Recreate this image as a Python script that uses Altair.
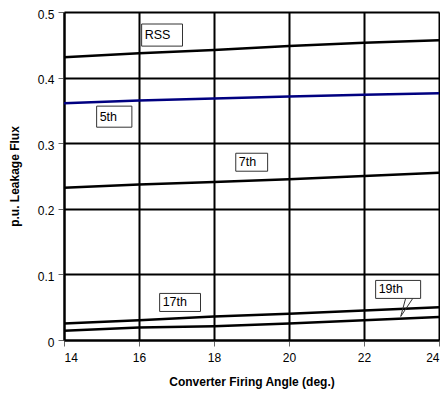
import altair as alt
import pandas as pd

angles = [14, 16, 18, 20, 22, 24]
rss = [0.431, 0.437, 0.442, 0.448, 0.453, 0.457]
h5 = [0.361, 0.365, 0.368, 0.371, 0.374, 0.376]
h7 = [0.232, 0.237, 0.241, 0.245, 0.250, 0.255]
h17 = [0.025, 0.030, 0.036, 0.040, 0.045, 0.050]
h19 = [0.014, 0.019, 0.021, 0.025, 0.030, 0.035]

series_names = ["RSS", "5th", "7th", "17th", "19th"]
series_vals = [rss, h5, h7, h17, h19]
series_colors = ["#000000", "#000080", "#000000", "#000000", "#000000"]

# label boxes: name, x0, x1, y0, y1
lab_names = ["RSS", "5th", "7th", "17th", "19th"]
lab_x0 = [16.07, 14.87, 18.58, 16.55, 22.31]
lab_x1 = [17.16, 15.81, 19.43, 17.64, 23.51]
lab_y0 = [0.448, 0.3244, 0.2573, 0.0435, 0.0634]
lab_y1 = [0.4817, 0.3565, 0.2847, 0.071, 0.0908]

# 19th callout pointer
ptr_x = [23.11, 22.98, 23.30]
ptr_y = [0.0634, 0.0359, 0.0634]

rows = []
for n, vals in zip(series_names, series_vals):
    for a, v in zip(angles, vals):
        rows.append({"angle": a, "flux": v, "series": n})
df = pd.DataFrame(rows)

labs = pd.DataFrame({"name": lab_names, "x0": lab_x0, "x1": lab_x1,
                     "y0": lab_y0, "y1": lab_y1})
ptr = pd.DataFrame({"x": ptr_x, "y": ptr_y, "o": [0, 1, 2]})

xscale = alt.Scale(domain=[14, 24], nice=False)
yscale = alt.Scale(domain=[0, 0.5], nice=False)

xaxis = alt.Axis(values=angles, title="Converter Firing Angle (deg.)",
                 grid=True, gridColor="#000000", gridWidth=2, gridOpacity=1,
                 domainColor="#000000", domainWidth=2,
                 tickColor="#666666", tickSize=6, tickWidth=1,
                 labelFont="Liberation Sans", labelFontSize=12, labelColor="#000000",
                 labelPadding=6,
                 titleFont="Liberation Sans", titleFontSize=12, titleFontWeight="bold",
                 titleColor="#000000", titlePadding=13)
yaxis = alt.Axis(values=[0, 0.1, 0.2, 0.3, 0.4, 0.5], format="~g",
                 title="p.u. Leakage Flux",
                 grid=True, gridColor="#000000", gridWidth=2, gridOpacity=1,
                 domainColor="#000000", domainWidth=2,
                 tickColor="#666666", tickSize=6, tickWidth=1,
                 labelFont="Liberation Sans", labelFontSize=12, labelColor="#000000",
                 labelPadding=4, labelOffset=2,
                 titleFont="Liberation Sans", titleFontSize=12, titleFontWeight="bold",
                 titleColor="#000000", titlePadding=16)

lines = alt.Chart(df).mark_line(strokeWidth=2.5).encode(
    x=alt.X("angle:Q", scale=xscale, axis=xaxis),
    y=alt.Y("flux:Q", scale=yscale, axis=yaxis),
    color=alt.Color("series:N", scale=alt.Scale(domain=series_names, range=series_colors),
                    legend=None),
    detail="series:N",
)

boxes = alt.Chart(labs).mark_rect(fill="white", stroke="#333333", strokeWidth=1).encode(
    x=alt.X("x0:Q", scale=xscale), x2="x1:Q",
    y=alt.Y("y0:Q", scale=yscale), y2="y1:Q",
)
texts = alt.Chart(labs).mark_text(align="left", baseline="middle", dx=3, font="Liberation Sans",
                                  fontSize=12.5, color="#000000").encode(
    x=alt.X("x0:Q", scale=xscale),
    y=alt.Y("ymid:Q", scale=yscale),
    text="name:N",
).transform_calculate(ymid="(datum.y0 + datum.y1) / 2")

pointer = alt.Chart(ptr).mark_line(color="#333333", strokeWidth=1).encode(
    x=alt.X("x:Q", scale=xscale), y=alt.Y("y:Q", scale=yscale), order="o:Q",
)

chart = alt.layer(lines, boxes, pointer, texts).properties(
    width=375, height=328,
    autosize=alt.AutoSizeParams(type="none"),
    padding={"left": 56, "top": 4, "right": 1, "bottom": 56},
).configure_view(stroke="#000000", strokeWidth=2).configure(background="white")

chart.save("out.html", embed_options={"renderer": "svg", "actions": False})
